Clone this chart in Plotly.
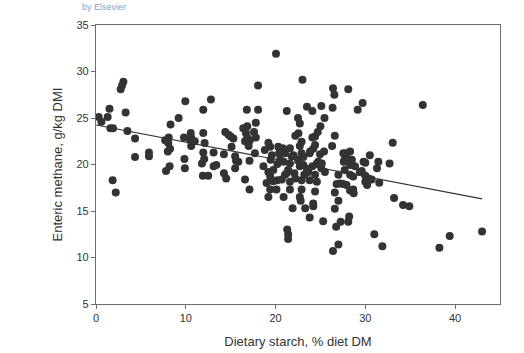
import plotly.graph_objects as go

starch = [
    0.3, 0.6, 1.3, 1.5, 1.6, 1.9, 1.85, 2.2, 2.75, 2.9, 3.05, 3.3, 3.5, 4.35, 4.35, 5.9, 5.9,
    7.8, 8.2, 7.7, 8.1, 8.05, 8.25, 8.0, 8.3, 9.2, 9.95, 9.8, 9.85, 9.9, 10.55, 10.6, 10.6, 11.0, 10.5,
    11.95, 12.8, 11.95, 12.1, 11.95, 12.05, 11.8, 11.9, 12.5, 13.1, 14.25, 13.4, 13.1, 14.25, 14.5,
    14.4, 14.75, 15.0, 15.3, 15.1, 15.5, 15.6, 15.5, 15.85, 16.6, 17.1, 16.8, 18.05, 17.8, 16.4, 16.85,
    17.6, 17.8, 16.7, 16.85, 16.6, 17.0, 17.15, 17.7, 17.1, 18.05, 20.05,
    18.8, 19.2, 19.4, 19.6, 19.45, 18.65, 19.2, 19.4, 19.0, 19.4, 19.2, 19.75, 20.2, 20.5, 20.4, 20.8,
    21.05, 21.6, 22.7, 22.0, 22.5, 23.1, 22.7, 22.1, 21.25, 23.2, 23.5, 24.1, 24.6, 23.8, 24.4, 20.2,
    20.7, 20.1, 20.9, 21.6, 21.9, 22.7, 22.9, 23.3, 23.8, 24.2, 24.4, 21.3, 21.4, 21.4, 20.3, 19.75,
    21.8, 20.9, 21.6, 21.4, 21.05, 21.6, 22.2, 23.1, 23.65, 22.9, 23.8, 24.75, 25.1, 25.5, 24.4, 24.6,
    25.15, 24.95, 22.9, 22.9, 23.85,
    21.25, 23.5, 24.1, 25.1, 26.35, 29.15, 29.7, 23.0, 26.4, 26.55, 28.1, 36.4, 22.5, 22.7, 25.45,
    25.0, 24.7, 26.6, 24.4, 24.1, 22.55, 22.2, 24.2, 25.4, 26.3, 33.05,
    26.6, 27.0, 26.6, 27.2, 27.9, 28.3, 28.7, 27.7, 28.3, 27.0, 28.5, 27.9, 27.6, 27.9, 28.3, 28.85,
    29.4, 29.8, 22.8, 24.2, 25.3, 26.75, 27.25, 28.1, 28.2, 26.4, 27.0, 26.8, 27.55, 28.65, 28.65,
    27.55, 27.7, 28.3,
    30.5, 30.0, 31.45, 32.7, 31.3, 29.6, 30.0, 30.35, 30.7, 30.0, 31.55, 30.2, 33.2, 34.2, 34.9,
    31.0, 31.9, 38.25, 39.4, 43.0,
]
methane = [
    25.1, 24.6, 25.1, 26.0, 23.9, 23.9, 18.3, 17.0, 28.1, 28.5, 28.9, 25.6, 23.6, 22.8, 20.8, 21.3, 20.9,
    19.3, 19.8, 22.6, 22.9, 22.3, 21.7, 21.4, 24.3, 25.0, 26.8, 22.9, 20.6, 19.6, 23.4, 22.9, 22.0, 22.5, 22.6,
    25.9, 27.0, 23.4, 22.3, 21.3, 20.6, 20.1, 18.8, 18.8, 21.3, 21.1, 19.95, 19.8, 19.05, 18.5,
    23.5, 23.2, 23.0, 22.8, 21.9, 20.9, 20.4, 19.6, 20.3, 18.4, 17.3, 25.9, 25.9, 24.5, 23.9, 24.1,
    23.5, 22.9, 23.4, 22.9, 22.5, 22.0, 22.6, 21.2, 20.4, 28.5, 31.9,
    21.55, 22.35, 21.9, 21.0, 20.5, 19.8, 19.2, 18.7, 18.0, 17.3, 16.5, 19.4, 20.05, 20.5, 21.2, 21.75,
    21.2, 21.75, 22.0, 21.0, 20.5, 20.8, 19.8, 19.05, 19.05, 18.9, 19.4, 19.8, 20.1, 21.2, 22.1, 18.3,
    18.4, 17.3, 16.5, 17.3, 15.3, 16.5, 17.3, 15.3, 14.3, 15.8, 17.1, 13.0, 12.5, 12.0, 21.9, 18.2,
    20.85, 20.3, 20.1, 19.4, 18.9, 18.15, 18.5, 19.95, 19.2, 18.3, 18.3, 20.3, 19.6, 19.2, 18.9, 18.15,
    20.1, 21.1, 21.2, 22.45, 21.4,
    25.75, 26.2, 25.75, 26.3, 26.1, 25.9, 26.6, 29.1, 28.2, 27.5, 28.1, 26.4, 25.0, 24.4, 25.0,
    24.1, 23.5, 23.1, 23.0, 22.9, 23.35, 23.1, 21.7, 21.4, 22.0, 22.35,
    17.0, 16.1, 15.25, 17.95, 17.8, 17.2, 16.9, 19.4, 18.9, 18.9, 20.5, 20.7, 20.3, 21.2, 21.4, 19.8,
    19.2, 20.3, 16.1, 15.5, 13.9, 13.3, 13.85, 13.85, 14.4, 10.7, 11.4, 17.9, 17.9, 17.3, 18.7,
    21.2, 20.55, 19.95,
    21.0, 20.2, 20.3, 20.1, 19.6, 19.3, 18.8, 18.5, 18.4, 18.15, 18.05, 17.8, 16.4, 15.65, 15.5,
    12.5, 11.2, 11.05, 12.3, 12.8,
]

trend_x = [0, 43]
trend_y = [24.25, 16.3]

x_ticks = [0, 10, 20, 30, 40]
y_ticks = [5, 10, 15, 20, 25, 30, 35]

fig = go.Figure()
fig.add_trace(go.Scatter(
    x=starch, y=methane, mode="markers",
    marker=dict(size=8, color="#333333", line=dict(width=0)),
    showlegend=False, hoverinfo="skip",
))
fig.add_trace(go.Scatter(
    x=trend_x, y=trend_y, mode="lines",
    line=dict(color="#333333", width=1.2),
    showlegend=False, hoverinfo="skip",
))

axis_common = dict(
    showgrid=False, zeroline=False, showline=True, linecolor="#6e6e6e", linewidth=1.2,
    mirror=True, ticks="outside", ticklen=4, tickcolor="#6e6e6e", tickwidth=1,
    tickfont=dict(family="Liberation Sans, Arial, sans-serif", size=11, color="#333333"),
)

fig.update_layout(
    width=524, height=353,
    margin=dict(l=96, r=24, t=25, b=49, autoexpand=False),
    paper_bgcolor="white", plot_bgcolor="white",
    font=dict(family="Liberation Sans, Arial, sans-serif", color="#333333"),
    xaxis=dict(range=[0, 45], tickvals=x_ticks, **axis_common,
               title=dict(text="Dietary starch, % diet DM", font=dict(size=13, color="#333333"), standoff=13)),
    yaxis=dict(range=[5, 35], tickvals=y_ticks, **axis_common,
               title=dict(text="Enteric methane, g/kg DMI", font=dict(size=13, color="#333333"), standoff=10)),
    annotations=[dict(text="by Elsevier", xref="paper", yref="paper", x=-0.04, y=1.0896,
                      xanchor="left", yanchor="top", showarrow=False,
                      font=dict(size=9, color="#7aa7d6"))],
)

fig.write_html("out.html")
